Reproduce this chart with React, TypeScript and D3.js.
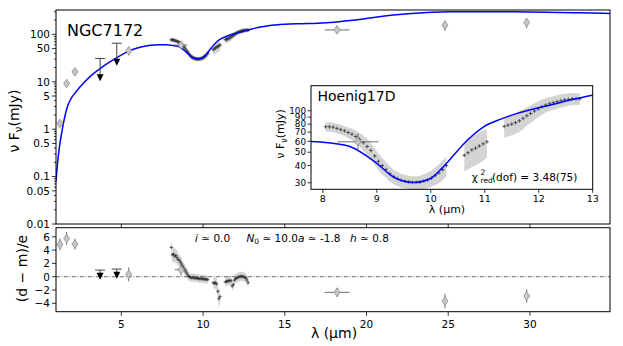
import React from "react";
import * as d3 from "d3";

const W = 623;
const H = 346;
const mainBox = { left: 56, right: 610, top: 10, bottom: 224 };
const resBox = { left: 56, right: 610, top: 227.7, bottom: 311.7 };
const inBox = { left: 311, right: 592.7, top: 85.7, bottom: 189.3 };
const FONT = "DejaVu Sans, Liberation Sans, sans-serif";

// model SED (blue line)
const modelWave = [1.0, 1.08, 1.2, 1.35, 1.5, 1.7, 1.9, 2.2, 2.7, 3.2, 3.7, 4.2, 4.7, 5.2, 5.7, 6.2, 6.7, 7.2, 7.7, 8.1, 8.5, 9.0, 9.31, 9.5, 9.68, 9.85, 10.0, 10.2, 10.37, 10.68, 10.98, 11.3, 11.6, 11.9, 12.22, 12.6, 13.0, 13.5, 14.0, 15.0, 16.0, 17.0, 18.0, 19.0, 20.0, 21.0, 22.0, 23.0, 24.0, 25.0, 27.0, 29.0, 31.0, 33.0, 34.9];
const modelFlux = [0.08, 0.17, 0.4, 0.85, 1.6, 3.0, 4.3, 6.0, 9.5, 14, 19, 25, 32, 40, 48, 54, 58, 60.5, 60, 58.5, 55, 41.5, 33, 30.8, 30.2, 30.8, 32.3, 38, 45, 61.3, 76.5, 87, 95.7, 103, 110, 120, 130, 143, 152, 163, 168, 172, 180, 195, 215, 240, 262, 280, 292, 298, 300, 298, 292, 284, 276];

// spectrum (crosses + grey band)
const specWave = [8.05, 8.12, 8.19, 8.26, 8.33, 8.4, 8.47, 8.54, 8.61, 8.68, 8.75, 8.82, 8.89, 8.96, 9.03, 9.1, 9.17, 9.24, 9.31, 9.38, 9.45, 9.52, 9.59, 9.66, 9.73, 9.8, 9.87, 9.94, 10.01, 10.08, 10.15, 10.22, 10.29,
  10.62, 10.69, 10.76, 10.83, 10.9, 10.97, 11.04,
  11.36, 11.43, 11.5, 11.57, 11.64, 11.71, 11.78, 11.85, 11.92, 11.99, 12.06, 12.13, 12.2, 12.27, 12.34, 12.41, 12.48, 12.55, 12.62, 12.69, 12.76];
const specFlux = [76.5, 76.5, 76, 74.5, 73, 71.5, 69.5, 67.5, 65, 62, 58.6, 55, 51.5, 47, 43, 40, 37.5, 35, 33.3, 32.2, 31.3, 30.8, 30.4, 30.2, 30.2, 30.3, 30.8, 31.5, 32.4, 33.8, 35.3, 37.3, 40,
  47.5, 49.5, 52, 53.5, 55.5, 57.5, 59.5,
  77, 78.5, 80, 82, 84.5, 88, 92, 95.5, 99.5, 103, 107, 110, 112.5, 114.5, 116.5, 118.5, 120, 121, 122, 122, 122];
const specErr = [6, 6, 6, 6, 6, 6, 6.5, 6.5, 7, 7, 7.5, 7.5, 7, 6.5, 6, 5.5, 5, 4.5, 4, 3.8, 3.6, 3.4, 3.3, 3.3, 3.3, 3.4, 3.6, 4, 4.5, 5, 5.5, 6, 6.5,
  11, 12, 13, 13.5, 14, 14, 14,
  13, 13.5, 14, 14, 14.5, 14.5, 14, 14, 14, 13.5, 13.5, 13, 13, 13, 13, 13, 13, 12.5, 12.5, 12, 12];
const specResid = [4.4, 3.3, 3.4, 3.1, 3.2, 2.9, 2.6, 2.5, 2.2, 1.9, 1.6, 1.3, 1.0, 0.7, 0.4, 0.1, 0.0, -0.1, -0.2, -0.1, -0.2, -0.2, -0.2, -0.2, -0.3, -0.3, -0.3, -0.3, -0.35, -0.35, -0.4, -0.4, -0.45,
  -0.9, -1.0, -0.9, -1.1, -2.2, -3.3, -3.0,
  -0.8, -0.7, -0.7, -0.6, -0.6, -0.6, -1.4, -1.2, -0.5, -0.3, -0.2, -0.1, 0.0, 0.0, 0.1, 0.0, 0.0, -0.1, -0.2, -0.5, -0.9];
const specResidErr = [1.2, 1.2, 1.1, 1.1, 1.0, 1.0, 1.0, 0.9, 0.9, 0.9, 0.8, 0.8, 0.8, 0.7, 0.7, 0.7, 0.6, 0.6, 0.6, 0.6, 0.6, 0.6, 0.6, 0.6, 0.6, 0.6, 0.6, 0.6, 0.6, 0.6, 0.6, 0.6, 0.6,
  0.8, 0.8, 0.9, 0.9, 1.1, 1.3, 1.2,
  0.7, 0.7, 0.7, 0.7, 0.7, 0.7, 0.7, 0.7, 0.7, 0.7, 0.7, 0.7, 0.7, 0.7, 0.7, 0.7, 0.7, 0.7, 0.7, 0.7, 0.7];

// photometry (grey diamonds)
const photWave = [1.24, 1.65, 2.16, 5.45, 8.65, 18.2, 24.8, 29.8];
const photFlux = [1.32, 9.2, 16.2, 44.9, 59.5, 124, 156, 178];
const photFluxErr = [0, 0, 0, 9, 9, 20, 39, 43];
const photWaveErr = [0, 0, 0, 0, 0.38, 0.75, 0, 0];
const photResid = [4.85, 5.75, 4.9, 0.35, 1.05, -2.35, -3.65, -2.9];
const photResidErr = [0.9, 1.0, 0.8, 1.05, 0.9, 0.7, 1.1, 1.0];

// upper limits
const limWave = [3.7, 4.72];
const limFlux = [30.9, 65];
const limHead = [12.5, 26.3];
const limResid = [1.0, 1.15];
const limResidHead = [0.15, 0.3];

// ticks
const mainYLabels = [0.01, 0.05, 0.1, 0.5, 1, 5, 10, 50, 100];
const xTicks = [5, 10, 15, 20, 25, 30];
const resYTicks = [6, 4, 2, 0, -2, -4];
const inXTicks = [8, 9, 10, 11, 12, 13];
const inYTicks = [30, 40, 50, 60, 70, 80, 90, 100];

const xM = d3.scaleLinear().domain([1.0, 34.9]).range([mainBox.left, mainBox.right]);
const yM = d3.scaleLog().domain([0.01, 326]).range([mainBox.bottom, mainBox.top]);
const yR = d3.scaleLinear().domain([-5.26, 7.37]).range([resBox.bottom, resBox.top]);
const xI = d3.scaleLinear().domain([7.78, 13.0]).range([inBox.left, inBox.right]);
const yI = d3.scaleLog().domain([26.9, 152]).range([inBox.bottom, inBox.top]);

// split spectrum into contiguous chunks
const segments: number[][] = [];
specWave.forEach((w, i) => {
  if (i === 0 || w - specWave[i - 1] > 0.2) segments.push([]);
  segments[segments.length - 1].push(i);
});

const minorLog: number[] = [];
for (let e = -2; e <= 2; e++) {
  for (let m = 1; m <= 9; m++) {
    const v = m * Math.pow(10, e);
    if (v <= 326) minorLog.push(v);
  }
}

const fmtLog = (v: number) => (v >= 1 ? String(v) : String(+v.toFixed(2)));
const diamond = "M0,-4.3L3,0L0,4.3L-3,0Z";
const cross = (x: number, y: number, s: number) => `M${x - s},${y}h${2 * s}M${x},${y - s}v${2 * s}`;

function Spectrum({ xs, ys, band, size }: any) {
  const area = d3
    .area<number>()
    .x((i) => xs(specWave[i]))
    .y0((i) => ys(band[0](i)))
    .y1((i) => ys(band[1](i)));
  return (
    <g>
      {segments.map((seg, k) => (
        <path key={k} d={area(seg) || ""} fill="#d4d4d4" />
      ))}
      <path
        d={specWave.map((w, i) => cross(xs(w), ys(band[2](i)), size)).join("")}
        stroke="#333"
        strokeWidth={0.8}
        fill="none"
      />
    </g>
  );
}

function Diamonds({ xs, ys, vals, errs, idx }: any) {
  return (
    <g>
      {idx.map((i: number) => {
        const x = xs(photWave[i]);
        const y = ys(vals[i]);
        return (
          <g key={i}>
            {errs[i] > 0 && (
              <line x1={x} x2={x} y1={ys(vals[i] - errs[i])} y2={ys(vals[i] + errs[i])} stroke="#6e6e6e" strokeWidth={1} />
            )}
            {photWaveErr[i] > 0 && (
              <line x1={xs(photWave[i] - photWaveErr[i])} x2={xs(photWave[i] + photWaveErr[i])} y1={y} y2={y} stroke="#6e6e6e" strokeWidth={1} />
            )}
            <path d={diamond} transform={`translate(${x},${y})`} fill="#c6c6c6" stroke="#8c8c8c" strokeWidth={0.8} />
          </g>
        );
      })}
    </g>
  );
}

function Limits({ xs, ys, caps, heads }: any) {
  return (
    <g>
      {limWave.map((w, i) => {
        const x = xs(w);
        return (
          <g key={i}>
            <line x1={x - 5} x2={x + 5} y1={ys(caps[i])} y2={ys(caps[i])} stroke="#444" strokeWidth={1} />
            <line x1={x} x2={x} y1={ys(caps[i])} y2={ys(heads[i])} stroke="#444" strokeWidth={1} />
            <path d="M-3.5,-3L3.5,-3L0,4Z" transform={`translate(${x},${ys(heads[i])})`} fill="#000" />
          </g>
        );
      })}
    </g>
  );
}

export default function App() {
  const modelIdx = modelWave.map((_, i) => i);
  const lineMain = d3
    .line<number>()
    .x((i) => xM(modelWave[i]))
    .y((i) => yM(modelFlux[i]))
    .curve(d3.curveMonotoneX);
  const lineIn = d3
    .line<number>()
    .x((i) => xI(modelWave[i]))
    .y((i) => yI(modelFlux[i]))
    .curve(d3.curveMonotoneX);

  const fluxBand = [(i: number) => specFlux[i] - specErr[i], (i: number) => specFlux[i] + specErr[i], (i: number) => specFlux[i]];
  const resBand = [(i: number) => specResid[i] - specResidErr[i], (i: number) => specResid[i] + specResidErr[i], (i: number) => specResid[i]];

  return (
    <svg width={W} height={H} style={{ position: "absolute", left: 0, top: 0, background: "#fff" }} fontFamily={FONT}>
      <defs>
        <clipPath id="clipMain">
          <rect x={mainBox.left} y={mainBox.top} width={mainBox.right - mainBox.left} height={mainBox.bottom - mainBox.top} />
        </clipPath>
        <clipPath id="clipRes">
          <rect x={resBox.left} y={resBox.top} width={resBox.right - resBox.left} height={resBox.bottom - resBox.top} />
        </clipPath>
        <clipPath id="clipIn">
          <rect x={inBox.left} y={inBox.top} width={inBox.right - inBox.left} height={inBox.bottom - inBox.top} />
        </clipPath>
      </defs>

      {/* main panel */}
      <g clipPath="url(#clipMain)">
        <Spectrum xs={xM} ys={yM} band={fluxBand} size={1.8} />
        <path d={lineMain(modelIdx) || ""} fill="none" stroke="#0000ff" strokeWidth={1.5} />
        <Diamonds xs={xM} ys={yM} vals={photFlux} errs={photFluxErr} idx={[0, 1, 2, 3, 4, 5, 6, 7]} />
        <Limits xs={xM} ys={yM} caps={limFlux} heads={limHead} />
      </g>
      <rect x={mainBox.left} y={mainBox.top} width={mainBox.right - mainBox.left} height={mainBox.bottom - mainBox.top} fill="none" stroke="#000" strokeWidth={1} />
      {minorLog.map((v) => {
        const major = mainYLabels.includes(v);
        return <line key={v} x1={mainBox.left} x2={mainBox.left - (major ? 4 : 2)} y1={yM(v)} y2={yM(v)} stroke="#000" strokeWidth={0.8} />;
      })}
      {mainYLabels.map((v) => (
        <text key={v} x={mainBox.left - 6} y={yM(v) + 3.8} fontSize={10.5} textAnchor="end">
          {fmtLog(v)}
        </text>
      ))}
      {xTicks.map((t) => (
        <line key={t} x1={xM(t)} x2={xM(t)} y1={mainBox.bottom} y2={mainBox.bottom + 4} stroke="#000" strokeWidth={0.8} />
      ))}
      <text x={67} y={35.5} fontSize={16}>NGC7172</text>
      <text transform="translate(18.5,121) rotate(-90)" fontSize={14} textAnchor="middle">
        ν F<tspan fontSize={10} dy={3}>ν</tspan>
        <tspan dy={-3}>(mJy)</tspan>
      </text>

      {/* inset */}
      <rect x={inBox.left} y={inBox.top} width={inBox.right - inBox.left} height={inBox.bottom - inBox.top} fill="#fff" />
      <g clipPath="url(#clipIn)">
        <Spectrum xs={xI} ys={yI} band={fluxBand} size={1.8} />
        <path d={lineIn(modelIdx) || ""} fill="none" stroke="#0000ff" strokeWidth={1.5} />
        <Diamonds xs={xI} ys={yI} vals={photFlux} errs={photFluxErr} idx={[4]} />
      </g>
      <rect x={inBox.left} y={inBox.top} width={inBox.right - inBox.left} height={inBox.bottom - inBox.top} fill="none" stroke="#000" strokeWidth={1} />
      {inXTicks.map((t) => (
        <g key={t}>
          <line x1={xI(t)} x2={xI(t)} y1={inBox.bottom} y2={inBox.bottom + 3.5} stroke="#000" strokeWidth={0.8} />
          <text x={xI(t)} y={inBox.bottom + 12.5} fontSize={9.5} textAnchor="middle">{t}</text>
        </g>
      ))}
      {inYTicks.map((t) => (
        <g key={t}>
          <line x1={inBox.left} x2={inBox.left - 3.5} y1={yI(t)} y2={yI(t)} stroke="#000" strokeWidth={0.8} />
          <text x={inBox.left - 5} y={yI(t) + 3.2} fontSize={8.8} textAnchor="end">{t}</text>
        </g>
      ))}
      <text x={317.5} y={100.5} fontSize={14}>Hoenig17D</text>
      <text x={447} y={212.5} fontSize={11} textAnchor="middle">λ (μm)</text>
      <text transform="translate(284,134) rotate(-90)" fontSize={11} textAnchor="middle">
        ν F<tspan fontSize={8} dy={2.5}>ν</tspan>
        <tspan dy={-2.5}>(mJy)</tspan>
      </text>
      <text x={471.7} y={180.5} fontSize={10.5}>χ</text>
      <text x={480.5} y={175} fontSize={7.5}>2</text>
      <text x={480.5} y={183} fontSize={7.5}>red</text>
      <text x={492} y={180.5} fontSize={10.5}>(dof) = 3.48(75)</text>

      {/* residual panel */}
      <g clipPath="url(#clipRes)">
        <Spectrum xs={xM} ys={yR} band={resBand} size={1.6} />
        <line x1={resBox.left} x2={resBox.right} y1={yR(0)} y2={yR(0)} stroke="#444" strokeWidth={0.8} strokeDasharray="4,1.5,1,1.5" />
        <Diamonds xs={xM} ys={yR} vals={photResid} errs={photResidErr} idx={[0, 1, 2, 3, 4, 5, 6, 7]} />
        <Limits xs={xM} ys={yR} caps={limResid} heads={limResidHead} />
      </g>
      <rect x={resBox.left} y={resBox.top} width={resBox.right - resBox.left} height={resBox.bottom - resBox.top} fill="none" stroke="#000" strokeWidth={1} />
      {resYTicks.map((t) => (
        <g key={t}>
          <line x1={resBox.left} x2={resBox.left - 4} y1={yR(t)} y2={yR(t)} stroke="#000" strokeWidth={0.8} />
          <text x={resBox.left - 6} y={yR(t) + 3.8} fontSize={10.5} textAnchor="end">
            {t < 0 ? `\u2212${-t}` : t}
          </text>
        </g>
      ))}
      {xTicks.map((t) => (
        <g key={t}>
          <line x1={xM(t)} x2={xM(t)} y1={resBox.bottom} y2={resBox.bottom + 4} stroke="#000" strokeWidth={0.8} />
          <text x={xM(t)} y={327.5} fontSize={10.5} textAnchor="middle">{t}</text>
        </g>
      ))}
      <text x={334} y={338} fontSize={14} textAnchor="middle">λ (μm)</text>
      <text transform="translate(27,268.5) rotate(-90)" fontSize={14} textAnchor="middle">(d − m)/e</text>
      <g fontSize={10.5}>
        <text x={195} y={242}><tspan fontStyle="italic">i</tspan> ≃ 0.0</text>
        <text x={246.5} y={242}>
          <tspan fontStyle="italic">N</tspan>
          <tspan fontSize={7.5} dy={2}>0</tspan>
          <tspan dy={-2}> ≃ 10.0</tspan>
          <tspan fontStyle="italic">a</tspan> ≃ -1.8
        </text>
        <text x={350} y={242}><tspan fontStyle="italic">h</tspan> ≃ 0.8</text>
      </g>
    </svg>
  );
}
